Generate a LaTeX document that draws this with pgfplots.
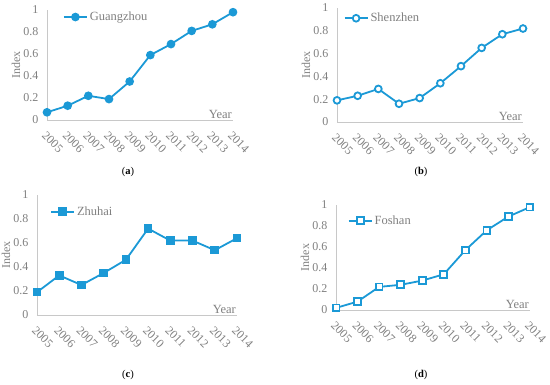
\documentclass[border=0pt]{standalone}
\usepackage{pgfplots}
\pgfplotsset{compat=1.18}
\usepackage{fontspec}
\setmainfont{Liberation Serif}
\definecolor{serblue}{RGB}{27,153,214}
\definecolor{txtgray}{RGB}{128,128,128}
\definecolor{axgray}{RGB}{200,200,200}
\pgfplotsset{
  panel/.style={
    scale only axis,
    axis lines*=left,
    axis line style={draw=axgray, line width=0.8pt},
    xmin=0, xmax=9, ymin=0, ymax=1,
    xtick={0,...,9},
    xticklabels={2005,2006,2007,2008,2009,2010,2011,2012,2013,2014},
    ytick={0,0.2,0.4,0.6,0.8,1},
    major tick length=0pt,
    tick style={draw=none},
    /pgf/number format/assume math mode=true,
    ticklabel style={font=\fontsize{12}{13}\selectfont, text=txtgray},
    y tick label style={xshift=-5pt},
    x tick label style={xshift=0pt, yshift=-9pt, rotate=-45, anchor=north west, inner sep=1pt},
    clip=false,
    xlabel={Year},
    every axis x label/.style={at={(rel axis cs:1,0)}, anchor=south east, inner sep=1pt, font=\fontsize{12.5}{13}\selectfont, text=txtgray},
    ylabel={Index},
    every axis y label/.style={at={([xshift=-31pt]rel axis cs:0,0.5)}, rotate=90, anchor=center, font=\fontsize{12}{13}\selectfont, text=txtgray},
    legend style={draw=none, fill=none, anchor=west, inner sep=0pt, font=\fontsize{12.5}{13}\selectfont, text=txtgray, column sep=0pt},
    legend image code/.code={\draw[mark repeat=2, mark phase=2] plot coordinates {(0pt,0pt) (11.5pt,0pt) (23pt,0pt)};},
  },
  ser/.style={color=serblue, line width=1.8pt, mark size=3.4pt, mark options={solid, line width=1.2pt}},
}
\begin{document}
\begin{tikzpicture}
\path[use as bounding box] (0pt,0pt) rectangle (550pt,-385pt);
% (a)
\begin{axis}[panel, width=186pt, height=110pt, at={(47pt,-120pt)}, anchor=south west,
  legend style={at={(rel axis cs:0.085,0.936)}}]
\addplot[ser, mark=*, mark options={fill=serblue}] coordinates {
(0,0.07) (1,0.13) (2,0.22) (3,0.19) (4,0.35) (5,0.59) (6,0.69) (7,0.81) (8,0.87) (9,0.98)};
\addlegendentry{Guangzhou}
\end{axis}
% (b)
\begin{axis}[panel, width=186pt, height=114pt, at={(337pt,-122pt)}, anchor=south west,
  legend style={at={(rel axis cs:0.035,0.91)}}]
\addplot[ser, mark=*, mark options={fill=white}] coordinates {
(0,0.19) (1,0.23) (2,0.29) (3,0.16) (4,0.21) (5,0.34) (6,0.49) (7,0.65) (8,0.77) (9,0.82)};
\addlegendentry{Shenzhen}
\end{axis}
% (c)
\begin{axis}[panel, width=200pt, height=120pt, at={(37pt,-315pt)}, anchor=south west,
  legend style={at={(rel axis cs:0.065,0.86)}}]
\addplot[ser, mark=square*, mark options={fill=serblue}] coordinates {
(0,0.19) (1,0.33) (2,0.25) (3,0.35) (4,0.46) (5,0.72) (6,0.62) (7,0.62) (8,0.54) (9,0.64)};
\addlegendentry{Zhuhai}
\end{axis}
% (d)
\begin{axis}[panel, width=194pt, height=105pt, at={(336pt,-310pt)}, anchor=south west,
  legend style={at={(rel axis cs:0.06,0.85)}}]
\addplot[ser, mark=square*, mark options={fill=white}] coordinates {
(0,0.02) (1,0.08) (2,0.22) (3,0.24) (4,0.28) (5,0.34) (6,0.57) (7,0.76) (8,0.89) (9,0.98)};
\addlegendentry{Foshan}
\end{axis}
\node[font=\fontsize{10.5}{12}\selectfont] at (128pt,-172pt) {(\textbf{a})};
\node[font=\fontsize{10.5}{12}\selectfont] at (421pt,-172pt) {(\textbf{b})};
\node[font=\fontsize{10.5}{12}\selectfont] at (128pt,-375pt) {(\textbf{c})};
\node[font=\fontsize{10.5}{12}\selectfont] at (421pt,-375pt) {(\textbf{d})};
\end{tikzpicture}
\end{document}
